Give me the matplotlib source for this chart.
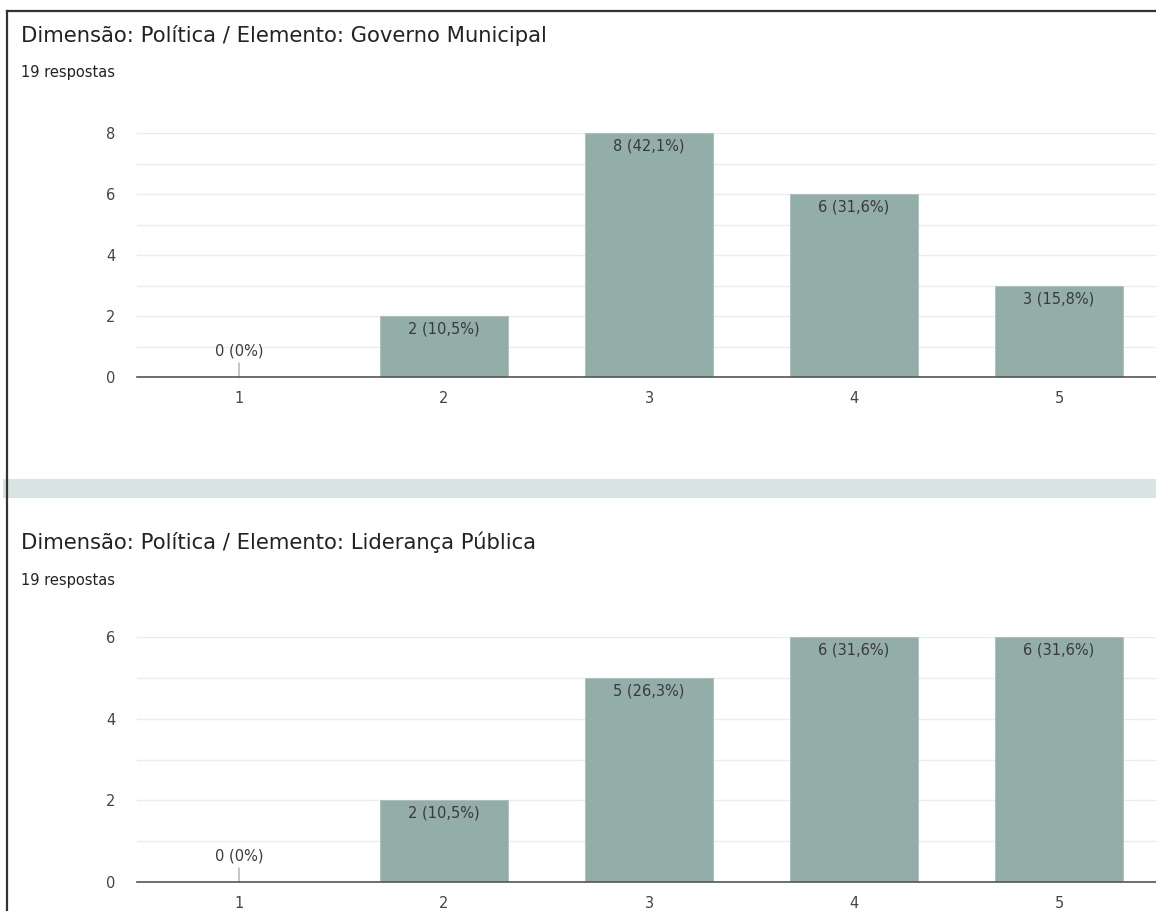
import matplotlib
matplotlib.use("Agg")
import matplotlib.pyplot as plt
from matplotlib.ticker import MultipleLocator
from matplotlib.patches import Rectangle
from matplotlib.lines import Line2D

# Survey data: two questions, each rated on a 1-5 scale
categories = ["1", "2", "3", "4", "5"]
governo_counts = [0, 2, 8, 6, 3]
lideranca_counts = [0, 2, 5, 6, 6]
titles = [
    "Dimensão: Política / Elemento: Governo Municipal",
    "Dimensão: Política / Elemento: Liderança Pública",
]
responses_label = "19 respostas"

BAR_COLOR = "#93ada8"
GRID_COLOR = "#ececec"
TEXT_COLOR = "#3a3a3a"
LABEL_COLOR = "#444444"
BAND_COLOR = "#d9e3e1"

plt.rcParams["font.family"] = ["DejaVu Sans"]

W, H = 1156, 911
fig = plt.figure(figsize=(W / 100, H / 100), dpi=100)
fig.patch.set_facecolor("white")


def fx(px):
    return px / W


def fy(py):
    return 1 - py / H


# frame lines on the top and left edges, plus the separator band
fig.add_artist(Rectangle((fx(3), fy(498)), 1, (498 - 479) / H,
                         transform=fig.transFigure, color=BAND_COLOR, lw=0))
fig.add_artist(Line2D([fx(7), 1], [fy(11), fy(11)], transform=fig.transFigure,
                      color="#333333", lw=1.6))
fig.add_artist(Line2D([fx(7), fx(7)], [fy(11), 0], transform=fig.transFigure,
                      color="#333333", lw=1.6))


def fmt_pct(v, total):
    p = 100 * v / total
    if p == 0:
        return "0%"
    return f"{p:.1f}".replace(".", ",") + "%"


def draw_chart(values, title, title_y, sub_y, ax_top, ax_bottom, ymax):
    fig.text(fx(21), fy(title_y), title, fontsize=15.2, color="#222222",
             va="center", ha="left")
    fig.text(fx(21), fy(sub_y), responses_label, fontsize=10.5,
             color="#222222", va="center", ha="left")

    left, right = 136.5, 1161.5
    ax = fig.add_axes([fx(left), fy(ax_bottom), (right - left) / W,
                       (ax_bottom - ax_top) / H])
    total = sum(values)
    x = list(range(len(categories)))
    ax.bar(x, values, width=0.625, color=BAR_COLOR, edgecolor="#a9bfba",
           linewidth=0.6, zorder=2)
    ax.set_xlim(-0.5, len(categories) - 0.5)
    ax.set_ylim(0, ymax)
    ax.yaxis.set_major_locator(MultipleLocator(2))
    ax.yaxis.set_minor_locator(MultipleLocator(1))
    ax.grid(axis="y", which="both", color=GRID_COLOR, lw=1.0, zorder=0)
    ax.set_axisbelow(True)
    ax.set_xticks(x)
    ax.set_xticklabels(categories)
    ax.tick_params(axis="both", which="both", length=0, labelsize=10.5,
                   colors=LABEL_COLOR)
    ax.tick_params(axis="x", pad=10)
    ax.tick_params(axis="y", pad=15)
    for s in ["top", "right", "left"]:
        ax.spines[s].set_visible(False)
    ax.spines["bottom"].set_color("#555555")
    ax.spines["bottom"].set_linewidth(1.2)
    ax.spines["bottom"].set_zorder(3)

    for xi, v in zip(x, values):
        label = f"{v} ({fmt_pct(v, total)})"
        if v == 0:
            ax.annotate(label, xy=(xi, v), xytext=(0, 13),
                        textcoords="offset points", ha="center", va="bottom",
                        fontsize=10.5, color=TEXT_COLOR,
                        arrowprops=dict(arrowstyle="-", color="#bbbbbb",
                                        lw=1.2, shrinkA=1, shrinkB=0))
        else:
            ax.annotate(label, xy=(xi, v), xytext=(0, -4),
                        textcoords="offset points", ha="center", va="top",
                        fontsize=10.5, color=TEXT_COLOR, zorder=4)
    return ax


draw_chart(governo_counts, titles[0], 36, 73, 133, 377, 8)
draw_chart(lideranca_counts, titles[1], 542, 580, 637, 882, 6)

fig.savefig("out.png", dpi=100, facecolor="white")
